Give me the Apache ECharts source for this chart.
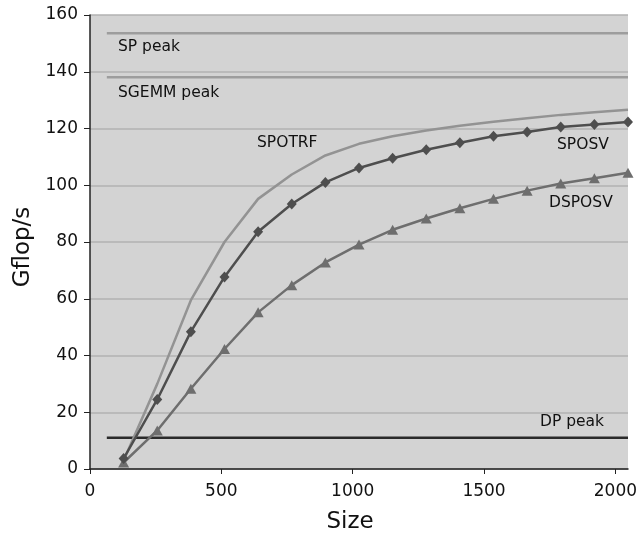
<!DOCTYPE html>
<html>
<head>
<meta charset="utf-8">
<script src="https://cdn.jsdelivr.net/npm/echarts@6/dist/echarts.min.js"></script>
<style>
html,body{margin:0;padding:0;background:#fff;}
#chart{width:638px;height:533px;}
</style>
</head>
<body>
<div id="chart"></div>
<script>
var sizes = [128, 256, 384, 512, 640, 768, 896, 1024, 1152, 1280, 1408, 1536, 1664, 1792, 1920, 2048];
var spotrf = [3, 30, 59.5, 80, 95.2, 103.8, 110.5, 114.6, 117.3, 119.3, 121, 122.4, 123.6, 124.8, 125.7, 126.6];
var sposv = [3.7, 24.5, 48.4, 67.7, 83.6, 93.4, 101.0, 106.1, 109.5, 112.5, 115.0, 117.3, 118.8, 120.5, 121.4, 122.3];
var dsposv = [2.3, 13.6, 28.3, 42.3, 55.2, 64.8, 72.8, 79.1, 84.3, 88.3, 91.9, 95.2, 98.1, 100.6, 102.5, 104.4];
var peakX = [64, 2048];
var spPeak = 153.6;
var sgemmPeak = 138.1;
var dpPeak = 11.0;
var xTicks = [0, 500, 1000, 1500, 2000];
var labels = ['SP peak', 'SGEMM peak', 'SPOTRF', 'SPOSV', 'DSPOSV', 'DP peak'];

function pairs(xs, ys) { return xs.map(function (x, i) { return [x, ys[i]]; }); }
function flat(v) { return peakX.map(function (x) { return [x, v]; }); }

var font = 'DejaVu Sans';
var chart = echarts.init(document.getElementById('chart'), null, {renderer: 'canvas'});
var txt = function (s, x, y) {
  return {type: 'text', x: x, y: y, style: {text: s, font: '15.5px "DejaVu Sans"', fill: '#111', align: 'left', verticalAlign: 'middle'}};
};
chart.setOption({
  animation: false,
  backgroundColor: '#fff',
  grid: {left: 90, right: 10, top: 15, bottom: 64, show: true, backgroundColor: '#d3d3d3', borderWidth: 0,
    containLabel: false, outerBoundsMode: 'none'},
  xAxis: {
    type: 'value', min: 0, max: 2048, interval: 500,
    name: 'Size', nameLocation: 'middle', nameGap: 42,
    nameTextStyle: {fontFamily: font, fontSize: 23, color: '#111', padding: [0, 18, 0, 0]},
    axisLine: {show: true, onZero: false, lineStyle: {color: '#222', width: 1.5}},
    axisTick: {show: true, length: 5, customValues: xTicks, lineStyle: {color: '#222'}},
    axisLabel: {customValues: xTicks, fontFamily: font, fontSize: 17, color: '#111', margin: 14,
      formatter: function (v) { return String(v); }},
    splitLine: {show: false}
  },
  yAxis: {
    type: 'value', min: 0, max: 160, interval: 20,
    name: 'Gflop/s', nameLocation: 'middle', nameGap: 53, nameRotate: 90,
    nameTextStyle: {fontFamily: font, fontSize: 23, color: '#111', padding: [0, 10, 0, 0]},
    axisLine: {show: true, lineStyle: {color: '#222', width: 1.5}},
    axisTick: {show: true, length: 6, lineStyle: {color: '#222'}},
    axisLabel: {fontFamily: font, fontSize: 17, color: '#111', margin: 12,
      formatter: function (v) { return String(v); }},
    splitLine: {show: true, lineStyle: {color: '#b2b2b2', width: 1.5}}
  },
  series: [
    {type: 'line', data: flat(spPeak), symbol: 'none', lineStyle: {color: '#9d9d9d', width: 2.5}, silent: true},
    {type: 'line', data: flat(sgemmPeak), symbol: 'none', lineStyle: {color: '#9d9d9d', width: 2.5}, silent: true},
    {type: 'line', data: flat(dpPeak), symbol: 'none', lineStyle: {color: '#2a2a2a', width: 2.5}, silent: true},
    {type: 'line', data: pairs(sizes, spotrf), symbol: 'none', lineStyle: {color: '#939393', width: 2.5}},
    {type: 'line', data: pairs(sizes, dsposv), symbol: 'triangle', symbolSize: [11, 10], showAllSymbol: true,
      itemStyle: {color: '#6e6e6e'}, lineStyle: {color: '#6e6e6e', width: 2.5}},
    {type: 'line', data: pairs(sizes, sposv), symbol: 'diamond', symbolSize: [10, 11], showAllSymbol: true,
      itemStyle: {color: '#4e4e4e'}, lineStyle: {color: '#4e4e4e', width: 2.5}}
  ],
  graphic: [
    txt(labels[0], 118, 47),
    txt(labels[1], 118, 93),
    txt(labels[2], 257, 143),
    txt(labels[3], 557, 145),
    txt(labels[4], 549, 203),
    txt(labels[5], 540, 422)
  ]
});
</script>
</body>
</html>
